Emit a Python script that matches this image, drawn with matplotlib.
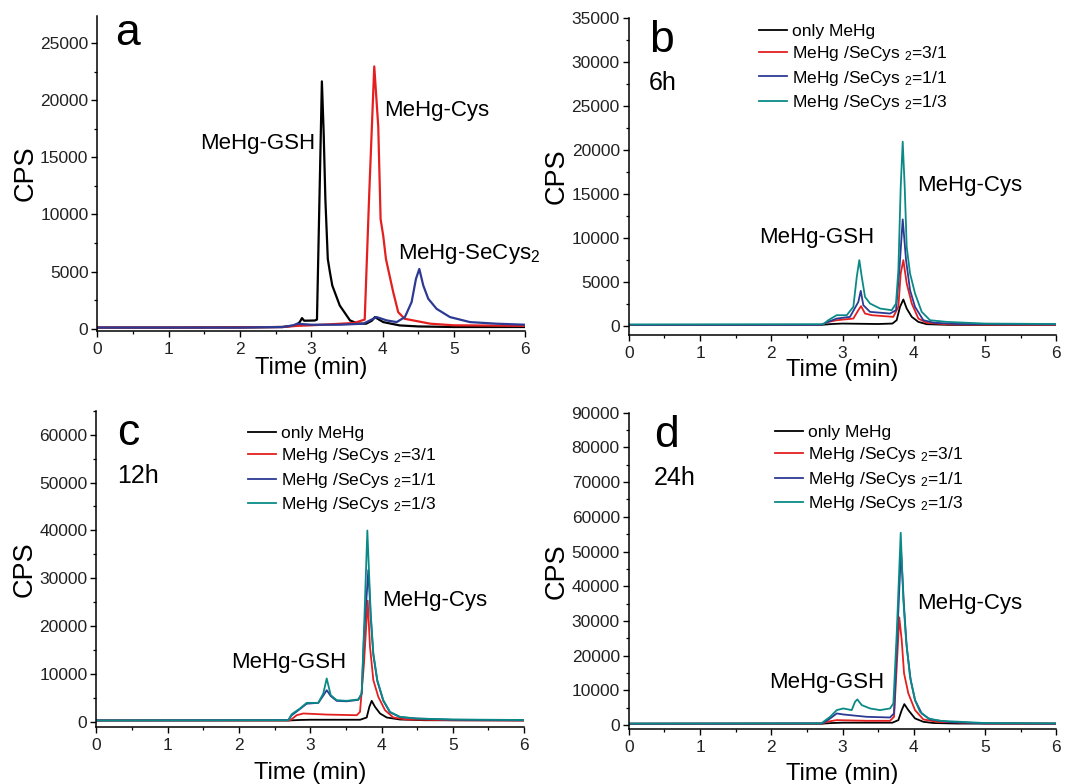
import matplotlib
matplotlib.use("Agg")
import matplotlib.pyplot as plt
from matplotlib.ticker import MultipleLocator

plt.rcParams['font.family'] = ['Liberation Sans', 'DejaVu Sans']
plt.rcParams['mathtext.fontset'] = 'custom'
plt.rcParams['mathtext.rm'] = 'Liberation Sans'
plt.rcParams['mathtext.it'] = 'Liberation Sans'

# ---------------- data ----------------
# panel a: single standards
a_gsh_t = [0, 1, 2, 2.6, 2.79, 2.84, 2.87, 2.9, 3.05, 3.08, 3.149, 3.174, 3.198, 3.232, 3.262, 3.295, 3.40, 3.464, 3.543, 3.65, 3.77, 3.85, 3.894, 3.95, 4.01, 4.24, 4.5, 5, 6]
a_gsh_cps = [100, 100, 120, 150, 300, 600, 930, 700, 720, 800, 21650, 17150, 11330, 6100, 4940, 3780, 2030, 1450, 730, 450, 440, 700, 1020, 800, 580, 290, 200, 150, 150]
a_cys_t = [0, 1, 2, 2.6, 2.8, 3.0, 3.3, 3.6, 3.75, 3.814, 3.884, 3.94, 3.973, 4.01, 4.048, 4.15, 4.22, 4.31, 4.67, 5.0, 6]
a_cys_cps = [100, 100, 120, 150, 250, 300, 400, 500, 800, 11900, 22960, 17700, 9590, 8130, 6100, 3200, 1450, 870, 440, 300, 250]
a_secys_t = [0, 1, 2, 2.6, 2.75, 2.8, 3.0, 3.4, 3.73, 3.917, 4.058, 4.198, 4.314, 4.408, 4.469, 4.516, 4.572, 4.642, 4.759, 4.946, 5.227, 5.6, 6]
a_secys_cps = [100, 100, 100, 150, 300, 440, 350, 350, 440, 1020, 730, 580, 1020, 2330, 4360, 5230, 3780, 2620, 1740, 1020, 580, 440, 350]

# panel b: 6 h
b_only_t = [0, 2.7, 2.85, 3.0, 3.5, 3.7, 3.76, 3.807, 3.854, 3.901, 3.972, 4.065, 4.182, 4.5, 6]
b_only_cps = [150, 150, 250, 300, 250, 300, 680, 2200, 3040, 2010, 1060, 490, 230, 150, 150]
b_31_t = [0, 2.7, 2.8, 2.918, 3.152, 3.222, 3.26, 3.316, 3.41, 3.713, 3.784, 3.817, 3.854, 3.901, 3.972, 4.065, 4.182, 4.5, 6]
b_31_cps = [150, 150, 490, 680, 870, 1820, 2280, 1440, 1250, 1060, 2200, 6000, 7510, 4860, 2580, 870, 380, 200, 150]
b_11_t = [0, 2.7, 2.8, 2.918, 3.105, 3.222, 3.256, 3.292, 3.386, 3.667, 3.751, 3.798, 3.845, 3.892, 3.948, 4.018, 4.135, 4.28, 4.6, 6]
b_11_cps = [150, 150, 500, 870, 1060, 2760, 4020, 2390, 1630, 1440, 1820, 6370, 12140, 7510, 4100, 2200, 680, 400, 250, 200]
b_13_t = [0, 2.73, 2.80, 2.918, 3.059, 3.152, 3.2, 3.236, 3.27, 3.316, 3.386, 3.527, 3.691, 3.751, 3.784, 3.817, 3.845, 3.873, 3.901, 3.948, 4.018, 4.112, 4.229, 4.463, 5.0, 6]
b_13_cps = [200, 230, 680, 1250, 1250, 2200, 5610, 7510, 5610, 3330, 2580, 2010, 1820, 2580, 6370, 15850, 20970, 15850, 9020, 6000, 3720, 1630, 680, 490, 300, 250]

# panel c: 12 h
c_only_t = [0, 2.7, 2.85, 3.0, 3.7, 3.792, 3.829, 3.862, 3.909, 3.979, 4.073, 4.26, 4.6, 6]
c_only_cps = [300, 300, 400, 450, 450, 920, 3140, 4400, 3140, 1760, 920, 500, 350, 300]
c_31_t = [0, 2.716, 2.81, 2.903, 3.231, 3.652, 3.698, 3.754, 3.806, 3.838, 3.885, 3.955, 4.049, 4.165, 4.35, 5, 6]
c_31_cps = [300, 300, 1400, 1760, 1530, 1400, 2090, 12220, 25330, 15700, 8730, 5230, 2450, 920, 500, 350, 300]
c_11_t = [0, 2.692, 2.74, 2.786, 2.856, 2.95, 3.113, 3.183, 3.231, 3.287, 3.371, 3.511, 3.674, 3.722, 3.754, 3.815, 3.848, 3.885, 3.941, 4.025, 4.119, 4.259, 4.493, 5, 6]
c_11_cps = [300, 360, 1400, 1900, 2700, 3800, 3980, 5500, 6630, 5400, 4400, 4300, 4600, 5900, 18000, 31750, 22000, 14000, 8500, 4400, 2000, 1000, 700, 450, 350]
c_13_t = [0, 2.692, 2.74, 2.786, 2.856, 2.95, 3.113, 3.183, 3.231, 3.287, 3.371, 3.511, 3.674, 3.722, 3.754, 3.801, 3.848, 3.885, 3.941, 4.025, 4.119, 4.259, 4.493, 5, 6]
c_13_cps = [300, 360, 1610, 2090, 2800, 3980, 3980, 5940, 9080, 5590, 4540, 4400, 4690, 5940, 19190, 39980, 22690, 14320, 8730, 4540, 2090, 1050, 710, 500, 400]

# panel d: 24 h
d_only_t = [0, 2.7, 2.85, 3.0, 3.7, 3.784, 3.831, 3.868, 3.924, 4.018, 4.135, 4.28, 4.6, 6]
d_only_cps = [400, 400, 600, 700, 700, 1440, 4320, 6050, 4320, 1930, 950, 600, 450, 400]
d_31_t = [0, 2.72, 2.778, 2.919, 3.34, 3.667, 3.723, 3.761, 3.797, 3.831, 3.864, 3.924, 4.018, 4.135, 4.33, 5, 6]
d_31_cps = [400, 450, 950, 1440, 1240, 1240, 2390, 16810, 31040, 24500, 14890, 9130, 4320, 1630, 950, 500, 400]
d_11_t = [0, 2.72, 2.825, 2.919, 3.011, 3.34, 3.667, 3.723, 3.77, 3.821, 3.864, 3.901, 3.957, 4.018, 4.112, 4.229, 4.5, 5, 6]
d_11_cps = [400, 500, 1900, 3360, 3070, 2390, 2200, 3360, 26430, 50430, 34090, 22570, 12970, 7200, 3360, 1630, 900, 500, 450]
d_13_t = [0, 2.70, 2.731, 2.825, 2.919, 3.011, 3.129, 3.176, 3.208, 3.27, 3.386, 3.527, 3.667, 3.714, 3.761, 3.817, 3.854, 3.892, 3.948, 4.018, 4.088, 4.205, 4.369, 5, 6]
d_13_cps = [450, 500, 950, 2390, 4320, 4800, 4320, 6720, 7400, 5760, 4800, 4320, 4800, 6250, 26430, 55420, 36020, 24500, 13920, 7200, 3830, 1930, 1240, 600, 500]

legend_labels = ['only MeHg', r'MeHg /SeCys $_{2}$=3/1', r'MeHg /SeCys $_{2}$=1/1', r'MeHg /SeCys $_{2}$=1/3']
colors = ['#000000', '#e3201f', '#2c3a94', '#0a8a86']

# ---------------- figure ----------------
fig = plt.figure(figsize=(10.70, 7.84), dpi=100)

rects = {
    'a': [0.0911, 0.5778, 0.3996, 0.4022],
    'b': [0.5877, 0.5727, 0.3994, 0.4040],
    'c': [0.0901, 0.0731, 0.3997, 0.4030],
    'd': [0.5877, 0.0698, 0.3994, 0.4038],
}
ylims = {'a': (-200, 27400), 'b': (-1000, 35000), 'c': (-1000, 65000), 'd': (-1200, 90000)}
ymajor = {'a': 5000, 'b': 5000, 'c': 10000, 'd': 10000}

axes = {}
for k in 'abcd':
    ax = fig.add_axes(rects[k])
    axes[k] = ax
    ax.set_xlim(0, 6)
    ax.set_ylim(*ylims[k])
    ax.xaxis.set_major_locator(MultipleLocator(1))
    ax.xaxis.set_minor_locator(MultipleLocator(0.5))
    ax.yaxis.set_major_locator(MultipleLocator(ymajor[k]))
    ax.yaxis.set_minor_locator(MultipleLocator(ymajor[k] / 2))
    for s in ['top', 'right']:
        ax.spines[s].set_visible(False)
    for s in ['left', 'bottom']:
        ax.spines[s].set_linewidth(1.1)
    ax.tick_params(which='major', direction='out', length=4.5, width=1.0, labelsize=12.5, pad=2, labelcolor='#222222')
    ax.tick_params(axis='x', which='major', pad=3.5)
    ax.tick_params(which='minor', direction='out', length=2.5, width=0.9)
    ax.set_xlabel('Time (min)', fontsize=17, va='center')
    ax.set_ylabel('CPS', fontsize=19.5, va='center')

# panel a
ax = axes['a']
lw_a = 1.6
ax.plot(a_gsh_t, a_gsh_cps, color=colors[0], lw=lw_a)
ax.plot(a_cys_t, a_cys_cps, color=colors[1], lw=lw_a)
ax.plot(a_secys_t, a_secys_cps, color=colors[2], lw=lw_a)
ax.text(0.041, 0.907, 'a', transform=ax.transAxes, fontsize=32)
ax.text(0.240, 0.577, 'MeHg-GSH', transform=ax.transAxes, fontsize=16)
ax.text(0.670, 0.682, 'MeHg-Cys', transform=ax.transAxes, fontsize=16)
ax.text(0.703, 0.227, r'MeHg-SeCys$_{2}$', transform=ax.transAxes, fontsize=16)

panel_data = {
    'b': [(b_only_t, b_only_cps), (b_31_t, b_31_cps), (b_11_t, b_11_cps), (b_13_t, b_13_cps)],
    'c': [(c_only_t, c_only_cps), (c_31_t, c_31_cps), (c_11_t, c_11_cps), (c_13_t, c_13_cps)],
    'd': [(d_only_t, d_only_cps), (d_31_t, d_31_cps), (d_11_t, d_11_cps), (d_13_t, d_13_cps)],
}
letter_pos = {'b': (0.047, 0.894), 'c': (0.048, 0.891), 'd': (0.059, 0.892)}
time_text = {'b': '6h', 'c': '12h', 'd': '24h'}
time_pos = {'b': (0.047, 0.774), 'c': (0.048, 0.771), 'd': (0.059, 0.771)}
gsh_pos = {'b': (0.305, 0.290), 'c': (0.315, 0.185), 'd': (0.328, 0.130)}
cys_pos = {'b': (0.674, 0.455), 'c': (0.668, 0.382), 'd': (0.674, 0.380)}
leg_anchor = {'b': (0.305, 0.983), 'c': (0.355, 0.952), 'd': (0.342, 0.962)}

for k in 'bcd':
    ax = axes[k]
    handles = []
    for (t, y), c, lab in zip(panel_data[k], colors, legend_labels):
        h, = ax.plot(t, y, color=c, lw=1.3, label=lab)
        handles.append(h)
    ax.text(*letter_pos[k], k, transform=ax.transAxes, fontsize=32)
    ax.text(*time_pos[k], time_text[k], transform=ax.transAxes, fontsize=18)
    ax.text(*gsh_pos[k], 'MeHg-GSH', transform=ax.transAxes, fontsize=16)
    ax.text(*cys_pos[k], 'MeHg-Cys', transform=ax.transAxes, fontsize=16)
    ax.legend(handles=handles, loc='upper left', bbox_to_anchor=leg_anchor[k], frameon=False,
              fontsize=12.5, handlelength=1.6, handletextpad=0.3, labelspacing=0.31, borderpad=0,
              borderaxespad=0)

# axis label positions
for k in 'abcd':
    axes[k].yaxis.set_label_coords(-0.168, 0.5)
ax_xlab = {'a': -0.118, 'b': -0.112, 'c': -0.147, 'd': -0.14}
for k in 'abcd':
    axes[k].xaxis.set_label_coords(0.5, ax_xlab[k])

fig.savefig('out.png', dpi=100)
